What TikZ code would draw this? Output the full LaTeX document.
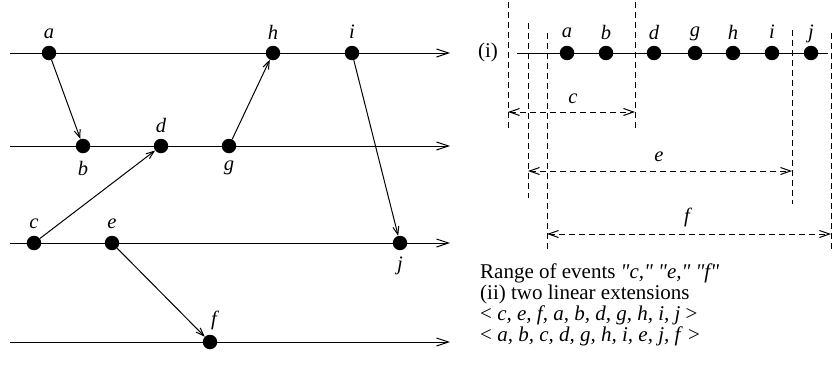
\documentclass[tikz,border=0pt]{standalone}
\usepackage{fontspec}
\setmainfont{Liberation Serif}
\usetikzlibrary{arrows.meta}
\begin{document}
\begin{tikzpicture}[x=1pt,y=-1pt,
  ev/.style={circle,fill=black,inner sep=0pt,minimum size=14.5pt},
  lbl/.style={font=\fontsize{20.5}{21}\selectfont\itshape, inner sep=0pt},
  txt/.style={font=\fontsize{21}{22}\selectfont, inner sep=0pt},
  tline/.style={line width=1pt,-{Straight Barb[length=12pt,width=8pt]}},
  msg/.style={line width=1pt,-{Straight Barb[length=8pt,width=6pt]}},
  vdash/.style={line width=1pt,dash pattern=on 6pt off 4pt},
  rangearrow/.style={line width=1pt,dash pattern=on 6pt off 4pt,
     {Straight Barb[length=10pt,width=7pt]}-{Straight Barb[length=10pt,width=7pt]}}
]
\useasboundingbox (0,0) rectangle (838,372);

% ---------- left: process timelines ----------
\coordinate (p1s) at (10,53);  \coordinate (p1e) at (450,53);
\coordinate (p2s) at (10,146); \coordinate (p2e) at (450,146);
\coordinate (p3s) at (10,243); \coordinate (p3e) at (450,243);
\coordinate (p4s) at (10,342); \coordinate (p4e) at (450,342);
\draw[tline] (p1s) -- (p1e);
\draw[tline] (p2s) -- (p2e);
\draw[tline] (p3s) -- (p3e);
\draw[tline] (p4s) -- (p4e);

\node[ev] (a) at (49,53) {};
\node[ev] (h) at (273,53) {};
\node[ev] (i) at (352,53) {};
\node[ev] (b) at (83,146) {};
\node[ev] (d) at (161,146) {};
\node[ev] (g) at (229,146) {};
\node[ev] (c) at (34,243) {};
\node[ev] (e) at (112,243) {};
\node[ev] (j) at (400,243) {};
\node[ev] (f) at (210,342) {};

\node[lbl] (la) at (49,34) {a};
\node[lbl] (lh) at (273,32) {h};
\node[lbl] (li) at (352,32) {i};
\node[lbl] (ld) at (161,125) {d};
\node[lbl] (lb) at (83,168) {b};
\node[lbl] (lg) at (229,168) {g};
\node[lbl] (lc) at (34,224) {c};
\node[lbl] (le) at (112,224) {e};
\node[lbl] (lj) at (400,266) {j};
\node[lbl] (lf) at (214,320) {f};

\draw[msg] (a) -- (b);
\draw[msg] (g) -- (h);
\draw[msg] (c) -- (d);
\draw[msg] (i) -- (j);
\draw[msg] (e) -- (f);

% ---------- right: linear order ----------
\node[txt] (roman) at (488,52) {(i)};
\coordinate (ls) at (517,53); \coordinate (le2) at (828,53);
\draw[line width=1pt] (ls) -- (le2);
\node[ev] (ra) at (567,53) {};
\node[ev] (rb) at (606,53) {};
\node[ev] (rd) at (654,53) {};
\node[ev] (rg) at (695,53) {};
\node[ev] (rh) at (733,53) {};
\node[ev] (ri) at (772,53) {};
\node[ev] (rj) at (811,53) {};
\node[lbl] (lra) at (567,33) {a};
\node[lbl] (lrb) at (606,32) {b};
\node[lbl] (lrd) at (654,32) {d};
\node[lbl] (lrg) at (695,34) {g};
\node[lbl] (lrh) at (733,32) {h};
\node[lbl] (lri) at (772,32) {i};
\node[lbl] (lrj) at (811,34) {j};

% dashed verticals
\coordinate (v1t) at (508,2);   \coordinate (v1b) at (508,128);
\coordinate (v2t) at (528,23);  \coordinate (v2b) at (528,198);
\coordinate (v3t) at (547,33);  \coordinate (v3b) at (547,252);
\coordinate (v4t) at (635,2);   \coordinate (v4b) at (635,128);
\coordinate (v5t) at (792,30);  \coordinate (v5b) at (792,204);
\coordinate (v6t) at (831,33);  \coordinate (v6b) at (831,252);
\draw[vdash] (v1t) -- (v1b);
\draw[vdash] (v2t) -- (v2b);
\draw[vdash] (v3t) -- (v3b);
\draw[vdash] (v4t) -- (v4b);
\draw[vdash] (v5t) -- (v5b);
\draw[vdash] (v6t) -- (v6b);

% ranges
\coordinate (cL) at (508,112); \coordinate (cR) at (635,112);
\coordinate (eL) at (528,171); \coordinate (eR) at (792,171);
\coordinate (fL) at (547,234); \coordinate (fR) at (831,234);
\draw[rangearrow] (cL) -- (cR);
\draw[rangearrow] (eL) -- (eR);
\draw[rangearrow] (fL) -- (fR);
\node[lbl] (lrc) at (573,99) {c};
\node[lbl] (lre) at (659,157) {e};
\node[lbl] (lrf) at (687,217) {f};

% text
\node[txt,anchor=base west] (t1) at (480,278) {Range of events \textit{\textquotedbl c,\textquotedbl{} \textquotedbl e,\textquotedbl{} \textquotedbl f\textquotedbl}};
\node[txt,anchor=base west] (t2) at (480,299) {(ii) two linear extensions};
\node[txt,anchor=base west] (t3) at (480,320) {< \textit{c, e, f, a, b, d, g, h, i, j} >};
\node[txt,anchor=base west] (t4) at (480,341) {< \textit{a, b, c, d, g, h, i, e, j, f} >};
\end{tikzpicture}
\end{document}
